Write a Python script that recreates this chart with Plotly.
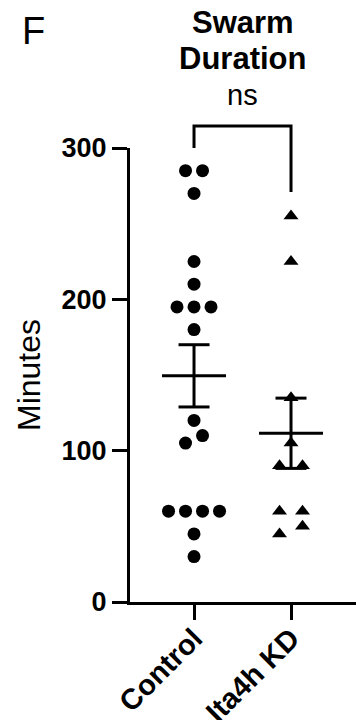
import numpy as np
import plotly.graph_objects as go

# ---- data (minutes) ----
categories = ["Control", "Ita4h KD"]
control_vals = [285, 285, 270, 225, 210, 195, 195, 195, 180, 120, 110, 105, 60, 60, 60, 60, 45, 30]
kd_vals = [255, 225, 135, 105, 90, 90, 60, 60, 50, 45]
y_ticks = [0, 100, 200, 300]
sig_label = "ns"
title_lines = ["Swarm", "Duration"]
panel_letter = "F"
y_title = "Minutes"

# ---- layout geometry ----
W, H = 356, 720
L, R, T, B = 130, 0, 148, 118
XR = [-0.66, 1.67]
YR = [0, 300]
plot_w = W - L - R
px_per_x = plot_w / (XR[1] - XR[0])
FONT = "Liberation Sans, Arial, sans-serif"


def swarm(vals, center, spacing_px, thresh):
    """simple GraphPad-like swarm: group close values in rows, center each row"""
    order = np.argsort(vals)
    v = np.asarray(vals, float)[order]
    xs = np.zeros(len(v))
    rows, cur = [], [0]
    for i in range(1, len(v)):
        if v[i] - v[cur[0]] < thresh:
            cur.append(i)
        else:
            rows.append(cur)
            cur = [i]
    rows.append(cur)
    d = spacing_px / px_per_x
    for r in rows:
        n = len(r)
        for k, idx in enumerate(r):
            xs[idx] = center + (k - (n - 1) / 2) * d
    return xs, v


cx, cy = swarm(control_vals, 0, 17, 9)
kx, ky = swarm(kd_vals, 1, 23, 9)

fig = go.Figure()
fig.add_trace(go.Scatter(x=cx, y=cy, mode="markers", cliponaxis=False,
                         marker=dict(symbol="circle", size=13, color="black"), showlegend=False))
fig.add_trace(go.Scatter(x=kx, y=ky, mode="markers", cliponaxis=False,
                         marker=dict(symbol="triangle-up", size=13, color="black"), showlegend=False))

# mean +/- SEM
half_mean = 32 / px_per_x
half_cap = 15.5 / px_per_x
for i, vals in enumerate([control_vals, kd_vals]):
    a = np.asarray(vals, float)
    m = a.mean()
    s = a.std(ddof=1) / np.sqrt(len(a))
    xs = [i - half_mean, i + half_mean, None, i, i, None,
          i - half_cap, i + half_cap, None, i - half_cap, i + half_cap]
    ys = [m, m, None, m - s, m + s, None, m + s, m + s, None, m - s, m - s]
    fig.add_trace(go.Scatter(x=xs, y=ys, mode="lines", line=dict(color="black", width=3),
                             showlegend=False, hoverinfo="skip"))


def xp(x):
    return (x - XR[0]) / (XR[1] - XR[0])


def yp(v):
    return (v - YR[0]) / (YR[1] - YR[0])


# significance bracket
top_v = 314.5
left_v = max(control_vals) + 15
right_v = max(kd_vals) + 16
fig.add_shape(type="path", xref="paper", yref="paper",
              path=f"M {xp(0)},{yp(left_v)} L {xp(0)},{yp(top_v)} L {xp(1)},{yp(top_v)} L {xp(1)},{yp(right_v)}",
              line=dict(color="black", width=3))

plot_h = H - T - B


def ypx(py):
    return (H - B - py) / plot_h


ann = [
    dict(text=f"<b>{title_lines[0]}</b>", x=0.5, y=ypx(22), size=31),
    dict(text=f"<b>{title_lines[1]}</b>", x=0.5, y=ypx(58), size=31),
    dict(text=sig_label, x=0.5, y=ypx(95), size=29),
]
for a in ann:
    fig.add_annotation(text=a["text"], x=a["x"], xref="x", y=a["y"], yref="paper",
                       showarrow=False, xanchor="center", yanchor="middle",
                       font=dict(family=FONT, size=a["size"], color="black"))
fig.add_annotation(text=panel_letter, x=(33 - L) / plot_w, xref="paper", y=ypx(31), yref="paper",
                   showarrow=False, xanchor="center", yanchor="middle",
                   font=dict(family=FONT, size=38, color="black"))

fig.update_layout(
    width=W, height=H, margin=dict(l=L, r=R, t=T, b=B, autoexpand=False),
    paper_bgcolor="white", plot_bgcolor="white",
    font=dict(family=FONT, color="black"),
    xaxis=dict(range=XR, tickmode="array", tickvals=[0, 1],
               ticktext=[f"<b>{c}</b>" for c in categories], tickangle=-45,
               ticks="outside", ticklen=15, tickwidth=3, tickcolor="black",
               ticklabelstandoff=-10,
               showline=True, linewidth=3, linecolor="black",
               showgrid=False, zeroline=False, automargin=False,
               tickfont=dict(family=FONT, size=29, color="black")),
    yaxis=dict(range=YR, tickmode="array", tickvals=y_ticks,
               ticktext=[f"<b>{t}</b>" for t in y_ticks],
               ticks="outside", ticklen=15, tickwidth=3, tickcolor="black",
               showline=True, linewidth=3, linecolor="black",
               showgrid=False, zeroline=False, automargin=False,
               tickfont=dict(family=FONT, size=27, color="black"),
               title=dict(text=y_title, font=dict(family=FONT, size=32, color="black"), standoff=12)),
)

fig.write_html("out.html")
